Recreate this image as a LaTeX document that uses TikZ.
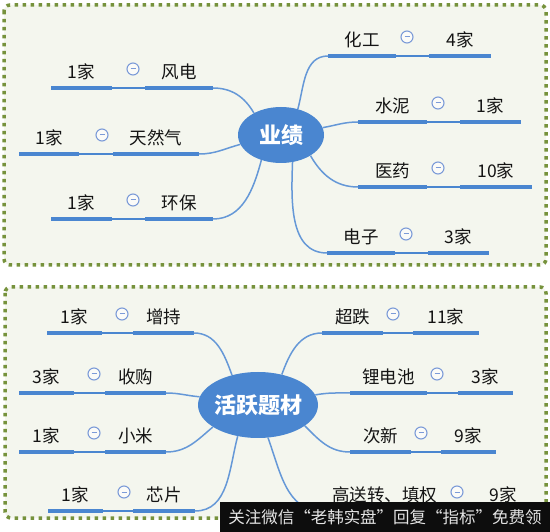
\documentclass[tikz,border=0pt]{standalone}
\usepackage{fontspec}
\setmainfont{Noto Sans CJK SC}
\usetikzlibrary{calc,shapes.geometric}
\definecolor{frameol}{HTML}{76923C}
\definecolor{panel}{HTML}{F4F6EE}
\definecolor{mapblue}{HTML}{4A86D0}
\definecolor{iconblue}{HTML}{7C9BD8}
\newcommand\leaf[9]{%
 \coordinate (#1a) at (#3,#2);
 \coordinate (#1b) at (#4,#2);
 \coordinate (#1c) at (#5,#2);
 \coordinate (#1d) at (#6,#2);
 \draw[thickseg] (#1a) -- (#1b);
 \draw[thinseg] (#1b) -- (#1c);
 \draw[thickseg] (#1c) -- (#1d);
 \node[lbl] (#1l) at ($(#1a)!0.5!(#1b)+(0,-16)$) {#8};
 \node[lbl] (#1r) at ($(#1c)!0.5!(#1d)+(0,-16)$) {#9};
 \node[iconnode] (#1i) at (#7,#2-19) {};
}
\begin{document}
\begin{tikzpicture}[x=1pt,y=-1pt,
 lbl/.style={font=\fontsize{17.5}{20}\selectfont, text=black!92, inner sep=0pt},
 thickseg/.style={draw=mapblue, line width=4pt},
 thinseg/.style={draw=mapblue, line width=1.3pt},
 curve/.style={draw=mapblue!85, line width=1.5pt},
 iconnode/.style={circle, draw=iconblue, line width=1.1pt, fill=white!60!panel,
   minimum size=12pt, inner sep=0pt,
   path picture={\draw[iconblue,line width=1pt]
     ([xshift=-2.5pt]path picture bounding box.center) --
     ([xshift=2.5pt]path picture bounding box.center);}},
 frame/.style={draw=frameol, line width=3.5pt, dash pattern=on 3.5pt off 4.5pt,
   fill=panel, rounded corners=6pt},
 hub/.style={ellipse, fill=mapblue, inner sep=0pt},
 hubtext/.style={font=\fontsize{22}{26}\selectfont\bfseries, text=white, inner sep=0pt},
 wmark/.style={font=\fontsize{16.5}{20}\selectfont, text=black!10, inner sep=0pt}
]
\useasboundingbox (0,0) rectangle (550,532);
\fill[white] (0,0) rectangle (550,532);
% frames
\draw[frame] (4,5) rectangle (546,265);
\draw[frame] (5,287) rectangle (546,518);
% hubs
\node[hub, minimum width=86pt, minimum height=56pt] (yj) at (281,135) {};
\node[hubtext] (yjt) at (yj) {业绩};
\node[hub, minimum width=120pt, minimum height=66pt] (ht) at (258,405) {};
\node[hubtext] (htt) at (ht) {活跃题材};
% top leaves
\leaf{fd}{88}{51}{112}{145}{213}{133}{1家}{风电}
\leaf{tr}{154}{19}{79}{113}{199}{102}{1家}{天然气}
\leaf{hb}{219}{51}{112}{145}{213}{133}{1家}{环保}
\leaf{hg}{56}{328}{396}{429}{491}{407}{化工}{4家}
\leaf{sn}{122}{358}{427}{460}{521}{438}{水泥}{1家}
\leaf{yy}{187}{358}{427}{460}{532}{438}{医药}{10家}
\leaf{dz}{253}{327}{395}{428}{489}{406}{电子}{3家}
% bottom leaves
\leaf{zc}{333}{47}{102}{133}{194}{122}{1家}{增持}
\leaf{sg}{393}{19}{74}{105}{166}{94}{3家}{收购}
\leaf{xm}{452}{19}{74}{105}{166}{94}{1家}{小米}
\leaf{xp}{511}{48}{103}{133}{195}{124}{1家}{芯片}
\leaf{cd}{333}{322}{383}{413}{479}{393}{超跌}{11家}
\leaf{ld}{393}{350}{427}{458}{513}{437}{锂电池}{3家}
\leaf{cx}{452}{350}{411}{441}{496}{421}{次新}{9家}
\leaf{gs}{511}{322}{447}{477}{529}{457}{高送转、填权}{9家}
% curves top
\draw[curve] (yj.141) to[out=120,in=0] (fdd);
\draw[curve] (yj.193) to[out=195,in=0] (trd);
\draw[curve] (yj.232) to[out=255,in=0] (hbd);
\draw[curve] (yj.57) to[out=75,in=180] (hga);
\draw[curve] (yj.10) to[out=10,in=180] (sna);
\draw[curve] (yj.325) to[out=300,in=180] (yya);
\draw[curve] (yj.293) to[out=268,in=180] (dza);
% curves bottom
\draw[curve] (ht.131) to[out=110,in=0] (zcd);
\draw[curve] (ht.172) to[out=175,in=0] (sgd);
\draw[curve] (ht.206) to[out=220,in=0] (xmd);
\draw[curve] (ht.237) to[out=255,in=0] (xpd);
\draw[curve] (ht.52) to[out=70,in=180] (cda);
\draw[curve] (ht.10) to[out=10,in=180] (lda);
\draw[curve] (ht.336) to[out=315,in=180] (cxa);
\draw[curve] (ht.287) to[out=290,in=180] (gsa);
% watermark
\fill[black!95] (220,502) rectangle (550,532);
\node[wmark] (wm) at (385,517) {关注微信“老韩实盘”回复“指标”免费领};
\end{tikzpicture}
\end{document}
